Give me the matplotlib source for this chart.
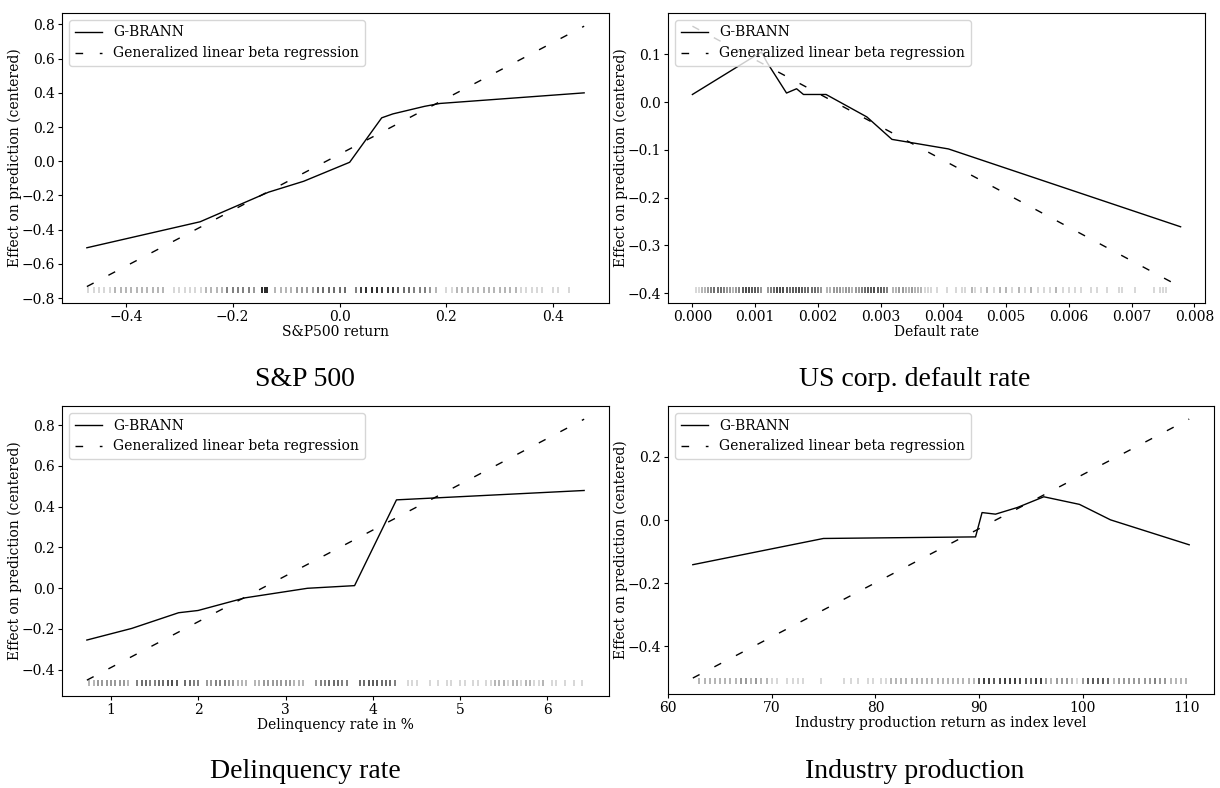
""" Partial effect plots: G-BRANN vs generalized linear beta regression. """

import matplotlib
matplotlib.use("Agg")
import matplotlib.pyplot as plt
import numpy as np

# S&P 500 return
sp_x = [-0.473, -0.261, -0.133, -0.067, 0.019, 0.079, 0.100, 0.159, 0.188, 0.458]
sp_gbrann = [-0.506, -0.354, -0.181, -0.117, -0.006, 0.254, 0.277, 0.321, 0.338, 0.400]
sp_beta_x = [-0.473, 0.458]
sp_beta = [-0.733, 0.790]
sp_rug_y = -0.752
sp_rug_x = [-0.47, -0.46, -0.45, -0.44, -0.43, -0.42, -0.41, -0.40, -0.39, -0.38,
            -0.37, -0.36, -0.35, -0.34, -0.33, -0.31, -0.30, -0.29, -0.28, -0.27,
            -0.26, -0.25, -0.24, -0.23, -0.22, -0.21, -0.20, -0.19, -0.18, -0.17,
            -0.16, -0.145, -0.14, -0.135, -0.12, -0.11, -0.10, -0.09, -0.08, -0.07,
            -0.06, -0.05, -0.04, -0.03, -0.02, -0.01, 0.00, 0.01, 0.03, 0.04,
            0.05, 0.06, 0.07, 0.08, 0.09, 0.10, 0.11, 0.12, 0.13, 0.14,
            0.15, 0.16, 0.17, 0.18, 0.20, 0.21, 0.22, 0.23, 0.24, 0.25,
            0.26, 0.27, 0.28, 0.29, 0.30, 0.31, 0.32, 0.33, 0.34, 0.35,
            0.36, 0.37, 0.38, 0.40, 0.41, 0.43]
sp_rug_n = [1, 1, 1, 1, 1, 2, 2, 2, 2, 2,
            2, 2, 2, 2, 2, 1, 1, 1, 1, 1,
            1, 2, 2, 2, 2, 4, 4, 4, 4, 4,
            3, 10, 10, 10, 2, 2, 2, 2, 3, 3,
            3, 3, 5, 5, 5, 5, 5, 5, 4, 8,
            10, 10, 10, 8, 8, 8, 6, 5, 5, 4,
            4, 4, 3, 2, 1, 1, 2, 2, 2, 2,
            2, 2, 2, 2, 2, 2, 2, 2, 1, 1,
            1, 1, 1, 1, 1, 1]

# US corporate default rate (rug positions in units of 1e-3)
dr_x = [0.0, 0.0011, 0.00119, 0.0015, 0.00166, 0.00177, 0.00213, 0.00278,
        0.00318, 0.00408, 0.00778]
dr_gbrann = [0.016, 0.105, 0.083, 0.019, 0.028, 0.016, 0.016, -0.031,
             -0.078, -0.098, -0.261]
dr_beta_x = [0.0, 0.00778]
dr_beta = [0.159, -0.387]
dr_rug_y = -0.393
dr_rug_x = [0.05, 0.1, 0.15, 0.2, 0.25, 0.3, 0.35, 0.4, 0.45, 0.5,
            0.55, 0.6, 0.65, 0.7, 0.75, 0.8, 0.85, 0.9, 0.95, 1.0,
            1.05, 1.1, 1.2, 1.25, 1.3, 1.35, 1.4, 1.45, 1.5, 1.55,
            1.6, 1.65, 1.7, 1.75, 1.8, 1.85, 1.9, 1.95, 2.0, 2.05,
            2.15, 2.2, 2.25, 2.3, 2.35, 2.4, 2.45, 2.5, 2.55, 2.6,
            2.65, 2.7, 2.75, 2.8, 2.85, 2.9, 2.95, 3.0, 3.05, 3.1,
            3.2, 3.25, 3.3, 3.35, 3.4, 3.45, 3.5, 3.55, 3.6, 3.65,
            3.7, 3.75, 3.8, 3.9, 4.05, 4.2, 4.3, 4.35, 4.45, 4.5,
            4.6, 4.7, 4.8, 4.9, 5.0, 5.1, 5.2, 5.3, 5.4, 5.5,
            5.6, 5.7, 5.8, 5.9, 6.0, 6.1, 6.2, 6.35, 6.45, 6.6,
            6.8, 6.85, 7.05, 7.35, 7.45, 7.5, 7.55]
dr_rug_n = [1, 1, 2, 2, 3, 4, 5, 5, 5, 4,
            3, 3, 2, 3, 4, 6, 7, 7, 6, 6,
            5, 3, 3, 4, 5, 7, 7, 7, 6, 5,
            6, 6, 7, 6, 5, 5, 5, 5, 4, 3,
            2, 2, 3, 3, 3, 2, 3, 3, 2, 3,
            3, 4, 5, 6, 6, 7, 6, 6, 5, 4,
            2, 2, 3, 3, 2, 2, 3, 2, 2, 2,
            1, 1, 1, 1, 1, 1, 1, 1, 2, 1,
            1, 2, 1, 2, 2, 1, 2, 1, 2, 1,
            1, 1, 2, 1, 1, 1, 1, 1, 1, 1,
            1, 1, 1, 1, 1, 1, 1]

# Delinquency rate in %
dq_x = [0.723, 1.237, 1.774, 1.997, 2.534, 3.25, 3.79, 4.27, 6.42]
dq_gbrann = [-0.255, -0.198, -0.121, -0.110, -0.048, -0.001, 0.012, 0.433, 0.479]
dq_beta_x = [0.723, 6.42]
dq_beta = [-0.452, 0.829]
dq_rug_y = -0.465
dq_rug_x = [0.75, 0.8, 0.85, 0.9, 0.95, 1.0, 1.05, 1.1, 1.15, 1.2,
            1.3, 1.35, 1.4, 1.45, 1.5, 1.55, 1.6, 1.65, 1.7, 1.75,
            1.85, 1.9, 1.95, 2.0, 2.1, 2.15, 2.2, 2.25, 2.3, 2.35,
            2.4, 2.45, 2.5, 2.55, 2.65, 2.7, 2.75, 2.8, 2.85, 2.9,
            2.95, 3.0, 3.05, 3.1, 3.15, 3.2, 3.35, 3.4, 3.45, 3.5,
            3.55, 3.6, 3.65, 3.7, 3.85, 3.9, 3.95, 4.0, 4.05, 4.1,
            4.15, 4.2, 4.25, 4.4, 4.45, 4.5, 4.65, 4.75, 4.85, 4.9,
            5.0, 5.05, 5.15, 5.2, 5.3, 5.35, 5.4, 5.45, 5.5, 5.55,
            5.6, 5.65, 5.7, 5.75, 5.8, 5.85, 5.9, 5.95, 6.05, 6.1,
            6.2, 6.3, 6.4]
dq_rug_n = [2, 2, 3, 3, 3, 3, 3, 3, 3, 2,
            4, 5, 5, 4, 4, 5, 5, 6, 7, 6,
            5, 5, 4, 4, 3, 3, 4, 4, 4, 3,
            3, 2, 2, 2, 2, 2, 3, 3, 3, 3,
            3, 3, 3, 2, 2, 2, 3, 4, 4, 5,
            5, 5, 4, 4, 5, 5, 6, 6, 6, 5,
            5, 5, 4, 1, 1, 1, 1, 1, 1, 1,
            1, 1, 1, 1, 1, 1, 2, 2, 2, 1,
            2, 2, 1, 2, 2, 1, 1, 2, 1, 1,
            1, 1, 1]

# Industry production index level
ip_x = [62.37, 74.98, 89.67, 90.3, 91.6, 93.7, 96.26, 99.7, 102.7, 110.3]
ip_gbrann = [-0.141, -0.058, -0.053, 0.024, 0.019, 0.040, 0.074, 0.050, 0.001, -0.078]
ip_beta_x = [62.37, 110.3]
ip_beta = [-0.500, 0.320]
ip_rug_y = -0.509
ip_rug_x = [63, 63.5, 64, 64.5, 65, 65.5, 66, 66.5, 67, 67.5,
            68, 68.5, 69, 69.5, 70, 70.5, 71.5, 72, 72.5, 73,
            74.7, 77, 77.6, 78.3, 79.3, 79.8, 80.5, 81, 81.5, 82,
            82.5, 83, 83.5, 84, 84.5, 85, 85.5, 86, 86.5, 87,
            87.5, 88, 88.5, 89, 89.5, 90, 90.5, 91, 91.5, 92,
            92.5, 93, 93.5, 94, 94.5, 95, 95.5, 96, 96.5, 97,
            97.5, 98, 98.5, 99, 99.5, 100, 100.5, 101, 101.5, 102,
            102.5, 103, 103.5, 104, 104.5, 105, 105.5, 106, 106.5, 107,
            107.5, 108, 108.5, 109, 109.5, 110]
ip_rug_n = [2, 2, 2, 2, 2, 2, 2, 2, 3, 3,
            2, 3, 2, 2, 1, 1, 1, 1, 1, 1,
            1, 1, 1, 1, 1, 1, 1, 1, 2, 2,
            2, 2, 2, 2, 2, 2, 2, 2, 2, 2,
            2, 2, 2, 2, 2, 6, 8, 8, 6, 7,
            8, 8, 8, 7, 6, 5, 8, 8, 3, 2,
            3, 3, 3, 2, 1, 3, 6, 6, 6, 6,
            5, 2, 3, 3, 3, 3, 3, 3, 3, 4,
            3, 3, 2, 2, 2, 2]

plt.rcParams['font.family'] = 'DejaVu Serif'
plt.rcParams['font.size'] = 10


def effectplot(ax, x, gbrann, bx, beta, rugx, rugn, rugy, xlabel):
    """ Draw both effect curves plus a rug of the observations. """
    ax.plot(x, gbrann, color='k', lw=1, label='G-BRANN')
    ax.plot(bx, beta, color='k', lw=1, ls=(0, (5.5, 12)),
            label='Generalized linear beta regression')
    pts = np.repeat(rugx, rugn)
    ax.plot(pts, np.full(len(pts), rugy), '|', color='k', alpha=0.2,
            ms=3.8, mew=1.1)
    ax.legend(loc='upper left', fontsize=10)
    ax.tick_params(length=3, pad=1.8)
    ax.set_xlabel(xlabel, labelpad=1)
    ax.set_ylabel("Effect on prediction (centered)", labelpad=0)


fig = plt.figure(figsize=(12.2, 7.88), dpi=100)
W, H = 1220.0, 788.0


def axes_px(left, top, right, bottom):
    return fig.add_axes([left / W, 1 - bottom / H, (right - left) / W,
                         (bottom - top) / H])


g1 = axes_px(62, 13, 609, 303)
g2 = axes_px(668, 13, 1205, 303)
g3 = axes_px(62, 406, 609, 696)
g4 = axes_px(668, 406, 1214, 694)

effectplot(g1, sp_x, sp_gbrann, sp_beta_x, sp_beta, np.array(sp_rug_x),
           sp_rug_n, sp_rug_y, "S&P500 return")
effectplot(g2, dr_x, dr_gbrann, dr_beta_x, dr_beta, np.array(dr_rug_x) * 1e-3,
           dr_rug_n, dr_rug_y, "Default rate")
effectplot(g3, dq_x, dq_gbrann, dq_beta_x, dq_beta, np.array(dq_rug_x),
           dq_rug_n, dq_rug_y, "Delinquency rate in %")
effectplot(g4, ip_x, ip_gbrann, ip_beta_x, ip_beta, np.array(ip_rug_x),
           ip_rug_n, ip_rug_y, "Industry production return as index level")

# panel captions
capfont = dict(family='Liberation Serif', fontsize=20, ha='center', va='center')
fig.text(0.25, 1 - 380 / H, "S&P 500", **capfont)
fig.text(0.75, 1 - 380 / H, "US corp. default rate", **capfont)
fig.text(0.25, 1 - 772 / H, "Delinquency rate", **capfont)
fig.text(0.75, 1 - 772 / H, "Industry production", **capfont)

fig.savefig("out.png", dpi=100)
